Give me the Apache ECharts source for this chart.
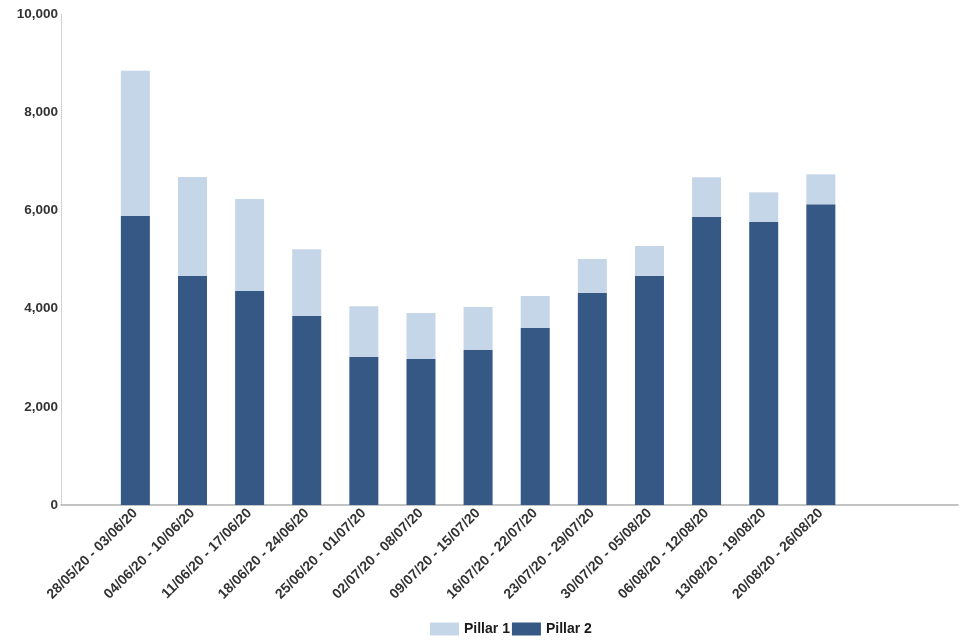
<!DOCTYPE html>
<html>
<head>
<meta charset="utf-8">
<script src="https://cdn.jsdelivr.net/npm/echarts@6/dist/echarts.min.js"></script>
<style>
html,body{margin:0;padding:0;background:#fff;}
#chart{width:960px;height:640px;}
</style>
</head>
<body>
<div id="chart"></div>
<script>
const categories = [
  '28/05/20 - 03/06/20','04/06/20 - 10/06/20','11/06/20 - 17/06/20','18/06/20 - 24/06/20',
  '25/06/20 - 01/07/20','02/07/20 - 08/07/20','09/07/20 - 15/07/20','16/07/20 - 22/07/20',
  '23/07/20 - 29/07/20','30/07/20 - 05/08/20','06/08/20 - 12/08/20','13/08/20 - 19/08/20',
  '20/08/20 - 26/08/20'
];
const pillar2 = [5886, 4664, 4358, 3852, 3014, 2974, 3157, 3605, 4324, 4670, 5866, 5764, 6124];
const pillar1 = [2959, 2016, 1874, 1356, 1033, 936, 876, 652, 686, 605, 808, 604, 611];
const yTicks = [0, 2000, 4000, 6000, 8000, 10000];

const FONT = "'Liberation Sans', Arial, sans-serif";
const chart = echarts.init(document.getElementById('chart'), null, {renderer: 'canvas'});
const fmt = v => String(v).replace(/\B(?=(\d{3})+(?!\d))/g, ',');

chart.setOption({
  animation: false,
  backgroundColor: '#ffffff',
  legend: {
    data: ['Pillar 1', 'Pillar 2'],
    left: 425,
    top: 617,
    itemWidth: 29,
    itemHeight: 13,
    itemGap: 2,
    icon: 'rect',
    textStyle: {fontFamily: FONT, fontWeight: 'bold', fontSize: 14, color: '#1a1a1a'}
  },
  grid: [
    {left: 106.8, right: 110.6, top: 14, bottom: 135},
    {left: 61, right: 2, top: 14, bottom: 135}
  ],
  xAxis: [
    {
      type: 'category', gridIndex: 0, data: categories,
      axisLine: {show: false}, axisTick: {show: false},
      axisLabel: {
        rotate: 45, interval: 0, margin: 6,
        fontFamily: FONT, fontWeight: 'bold', fontSize: 14, color: '#333'
      }
    },
    {
      type: 'value', gridIndex: 1, min: 0, max: 1,
      axisLine: {show: true, lineStyle: {color: '#b0b0b0', width: 1.5}},
      axisTick: {show: false}, axisLabel: {show: false}, splitLine: {show: false}
    }
  ],
  yAxis: [
    {type: 'value', gridIndex: 0, min: yTicks[0], max: yTicks[yTicks.length - 1], show: false},
    {
      type: 'value', gridIndex: 1, min: yTicks[0], max: yTicks[yTicks.length - 1],
      interval: yTicks[1] - yTicks[0],
      axisLine: {show: true, lineStyle: {color: '#c8c8c8', width: 1, type: 'dotted'}},
      axisTick: {show: false},
      splitLine: {show: false},
      axisLabel: {
        margin: 3, formatter: v => fmt(v),
        fontFamily: FONT, fontWeight: 'bold', fontSize: 13.5, color: '#333'
      }
    }
  ],
  series: [
    {
      name: 'Pillar 2', type: 'bar', stack: 'total', xAxisIndex: 0, yAxisIndex: 0,
      data: pillar2, barWidth: 29,
      itemStyle: {color: '#355884'}
    },
    {
      name: 'Pillar 1', type: 'bar', stack: 'total', xAxisIndex: 0, yAxisIndex: 0,
      data: pillar1, barWidth: 29,
      itemStyle: {color: '#c6d6e9'}
    }
  ]
});
</script>
</body>
</html>
